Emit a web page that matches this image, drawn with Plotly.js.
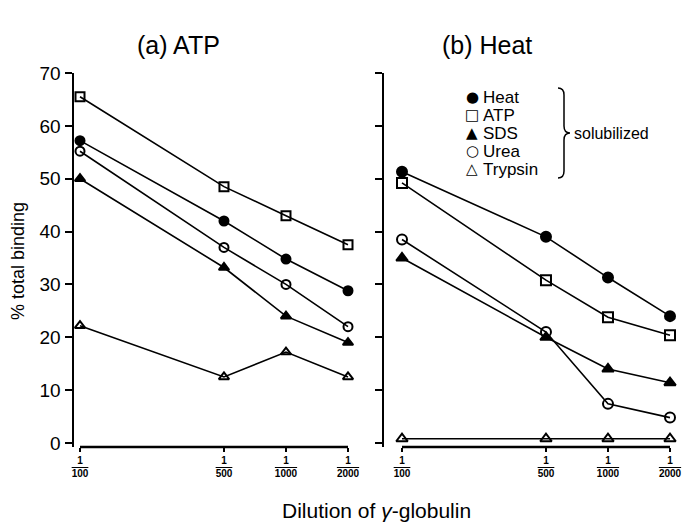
<!DOCTYPE html>
<html><head><meta charset="utf-8">
<script src="https://cdn.plot.ly/plotly-3.0.1.min.js"></script>
<style>body{margin:0;background:#fff}#chart{width:682px;height:532px}</style>
</head><body><div id="chart"></div>
<script>
// Dilution denominators (x values)
const dilutions = [100, 500, 1000, 2000];
const tickLabels = ["100", "500", "1000", "2000"];
const seriesNames = ["Heat", "ATP", "SDS", "Urea", "Trypsin"];
const legendGlyphs = ["●", "□", "▲", "○", "△"];

// Panel (a) ATP-treated: % total binding
const a_heat    = [57.2, 42.0, 34.8, 28.8];
const a_atp     = [65.5, 48.5, 43.0, 37.5];
const a_sds     = [50.0, 33.2, 24.0, 19.0];
const a_urea    = [55.2, 37.0, 30.0, 22.0];
const a_trypsin = [22.2, 12.5, 17.2, 12.5];

// Panel (b) Heat-treated: % total binding
const b_heat    = [51.3, 39.0, 31.3, 24.0];
const b_atp     = [49.2, 30.8, 23.8, 20.4];
const b_sds     = [35.0, 20.0, 14.0, 11.4];
const b_urea    = [38.5, 21.0, 7.4, 4.8];
const b_trypsin = [0.8, 0.8, 0.8, 0.8];

const symbols = ["circle", "square-open", "triangle-up", "circle-open", "triangle-up-open"];
const panelA = [a_heat, a_atp, a_sds, a_urea, a_trypsin];
const panelB = [b_heat, b_atp, b_sds, b_urea, b_trypsin];

const FONT = "Liberation Sans, Arial, sans-serif";
const traces = [];
function addPanel(vals, xa, ya, msize) {
  vals.forEach((v, i) => {
    traces.push({
      x: dilutions, y: v, xaxis: xa, yaxis: ya, type: "scatter", mode: "lines+markers",
      name: seriesNames[i], showlegend: false, cliponaxis: false,
      line: {color: "#000", width: 1.6},
      marker: {symbol: symbols[i], size: msize, color: "#000", line: {color: "#000", width: 2}}
    });
  });
}
addPanel(panelA, "x", "y", 9);
addPanel(panelB, "x2", "y2", 10);

// pixel helpers for layout placement
const L = 74, R = 6, T = 73, B = 85, W = 682, H = 532;
const PW = W - L - R, PH = H - T - B;
const px = x => (x - L) / PW;
const py = y => (H - B - y) / PH;

const fracText = tickLabels.map(t => "<b>1</b><br><b><span style='text-decoration:overline'>" + t + "</span></b>");

const xcommon = {
  type: "log", tickmode: "array", tickvals: dilutions, ticktext: fracText,
  ticks: "outside", ticklen: 4, tickwidth: 2, tickcolor: "#000",
  showline: false, showgrid: false, zeroline: false,
  tickfont: {family: FONT, size: 10, color: "#000"}
};
const ycommon = {
  range: [-0.76, 70], tickmode: "array", tickvals: [0,10,20,30,40,50,60,70],
  ticks: "outside", ticklen: 7, tickwidth: 2, tickcolor: "#000",
  showline: true, linewidth: 2.5, linecolor: "#000", showgrid: false, zeroline: false,
  tickfont: {family: FONT, size: 19, color: "#000"}
};

const shapes = [
  {type: "line", xref: "x", yref: "paper", x0: 100, x1: 2000, y0: 0, y1: 0, line: {color: "#000", width: 2.5}},
  {type: "line", xref: "x2", yref: "paper", x0: 100, x1: 2000, y0: 0, y1: 0, line: {color: "#000", width: 2.5}},
  {type: "path", xref: "paper", yref: "paper", line: {color: "#000", width: 1.5},
   path: `M ${px(558)} ${py(88)} Q ${px(564)} ${py(88)} ${px(564)} ${py(95)} L ${px(564)} ${py(126)} ` +
         `Q ${px(564)} ${py(133)} ${px(570)} ${py(133)} Q ${px(564)} ${py(133)} ${px(564)} ${py(140)} ` +
         `L ${px(564)} ${py(171)} Q ${px(564)} ${py(178)} ${px(558)} ${py(178)}`}
];

function ann(x, y, text, size, extra) {
  return Object.assign({xref: "paper", yref: "paper", x: px(x), y: py(y), text: text, showarrow: false,
    xanchor: "center", yanchor: "middle", font: {family: FONT, size: size, color: "#000"}}, extra || {});
}
const annotations = [
  ann(178, 45, "(a) ATP", 25),
  ann(487, 45, "(b) Heat", 25),
  ann(611, 133, "solubilized", 16),
  ann(376, 510, "Dilution of <i>γ</i>-globulin", 21),
  ann(18, 261, "% total binding", 18, {textangle: -90})
];
// legend built from names and glyphs
seriesNames.forEach((n, i) => {
  const y = 97 + 18 * i;
  annotations.push(ann(472, y, legendGlyphs[i], 15, {font: {family: "DejaVu Sans", size: 15, color: "#000"}}));
  annotations.push(ann(481, y, n, 17, {xanchor: "left"}));
});

const layout = {
  width: W, height: H, margin: {l: L, r: R, t: T, b: B},
  paper_bgcolor: "#fff", plot_bgcolor: "#fff",
  xaxis: Object.assign({}, xcommon, {domain: [0, 278 / PW], range: [2 - 6/206, Math.log10(2000) + 4/206], anchor: "y"}),
  xaxis2: Object.assign({}, xcommon, {domain: [(384 - L) / PW, 1], range: [2 - 18/206, Math.log10(2000) + 6/206], anchor: "y2"}),
  yaxis: Object.assign({}, ycommon, {anchor: "x"}),
  yaxis2: Object.assign({}, ycommon, {anchor: "x2", showticklabels: false}),
  showlegend: false,
  shapes: shapes, annotations: annotations
};

Plotly.newPlot("chart", traces, layout, {displayModeBar: false, staticPlot: true});
</script></body></html>
